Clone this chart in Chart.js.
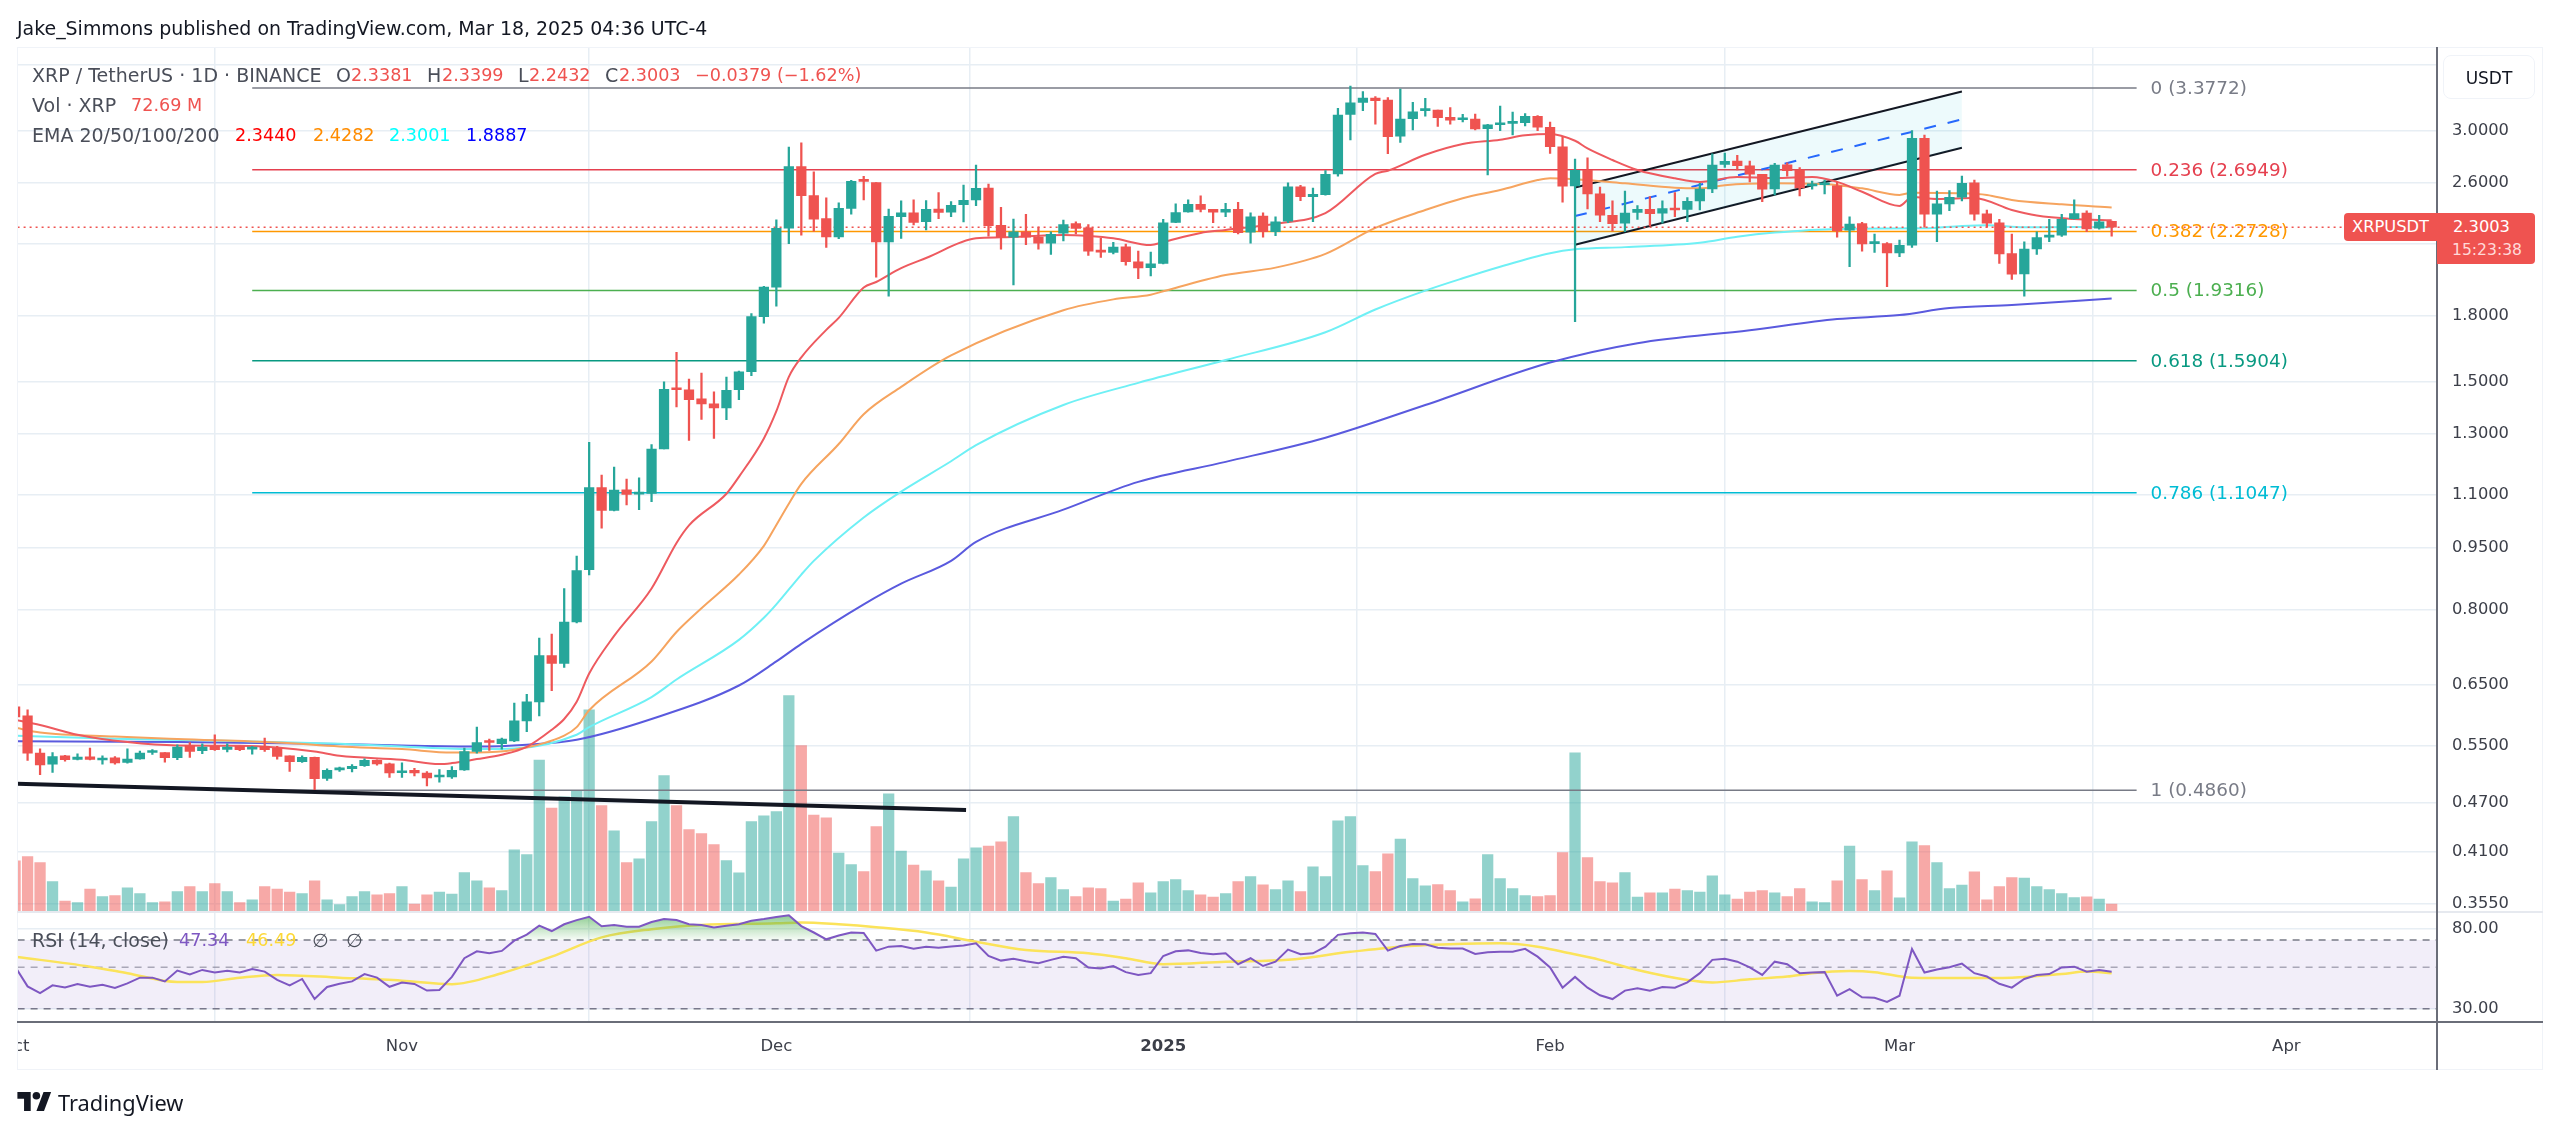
<!DOCTYPE html>
<html>
<head>
<meta charset="utf-8">
<title>XRP / TetherUS</title>
<script src="https://cdn.jsdelivr.net/npm/chart.js@4"></script>
<style>
  body { margin: 0; background: #fff; font-family: "DejaVu Sans", sans-serif; color: #131722; }
  #wrap { position: relative; width: 2560px; height: 1133px; overflow: hidden; }
  #chart { position: absolute; left: 0; top: 0; }
  .abs { position: absolute; white-space: pre; }
  .line { position: absolute; }
  .legend span { position: absolute; top: 0; white-space: pre; font-size: 17.6px; line-height: 24px; color: #ef5350; }
  .legend { position: absolute; left: 0; }
  .legend span.lab { color: #4a4e59; font-size: 19px; }
  .tag { position: absolute; background: #ef5350; color: #fff; font-size: 16.3px; }
</style>
</head>
<body>
<div id="wrap">
  <canvas id="chart" width="2560" height="1133"></canvas>

  <div class="abs" style="left:17px;top:16px;font-size:18.95px;line-height:24px;">Jake_Simmons published on TradingView.com, Mar 18, 2025 04:36 UTC-4</div>

  <div class="line" style="left:17px;top:47px;width:2526px;height:1023px;border:1px solid #f0f3f8;box-sizing:border-box;"></div>
  <div class="line" style="left:17px;top:911px;width:2526px;height:2px;background:#e6e9ef;"></div>
  <div class="line" style="left:17px;top:1021px;width:2526px;height:2px;background:#6a6d78;"></div>
  <div class="line" style="left:2436px;top:47px;width:2px;height:1023px;background:#6a6d78;"></div>

  <div class="legend" style="top:63px;">
    <span class="lab" style="left:32px">XRP / TetherUS · 1D · BINANCE</span>
    <span class="lab" style="left:336px">O</span><span style="left:351px">2.3381</span>
    <span class="lab" style="left:427px">H</span><span style="left:442px">2.3399</span>
    <span class="lab" style="left:518px">L</span><span style="left:529px">2.2432</span>
    <span class="lab" style="left:605px">C</span><span style="left:619px">2.3003</span>
    <span style="left:695px">−0.0379 (−1.62%)</span>
  </div>
  <div class="legend" style="top:93px;">
    <span class="lab" style="left:32px">Vol · XRP</span><span style="left:131px">72.69 M</span>
  </div>
  <div class="legend" style="top:123px;">
    <span class="lab" style="left:32px">EMA 20/50/100/200</span>
    <span style="left:235px;color:#ff0000">2.3440</span>
    <span style="left:313px;color:#ff8c00">2.4282</span>
    <span style="left:389px;color:#00ffff">2.3001</span>
    <span style="left:466px;color:#0000ff">1.8887</span>
  </div>
  <div class="legend" style="top:928px;">
    <span class="lab" style="left:32px">RSI (14, close)</span>
    <span style="left:179px;color:#7e57c2">47.34</span>
    <span style="left:246px;color:#fdd835">46.49</span>
    <span class="lab" style="left:312px">∅</span>
    <span class="lab" style="left:346px">∅</span>
  </div>

  <div class="abs" style="left:2443px;top:55px;width:92px;height:44px;line-height:44px;text-align:center;font-size:17px;border:1px solid #f0f3f8;border-radius:8px;box-sizing:border-box;">USDT</div>

  <div class="tag" style="left:2344px;top:213px;width:93px;height:28px;line-height:28px;text-align:center;border-radius:4px 0 0 4px;">XRPUSDT</div>
  <div class="tag" style="left:2437px;top:213px;width:98px;height:51px;border-radius:0 4px 4px 0;">
    <div style="position:absolute;left:16px;top:2px;line-height:24px;">2.3003</div>
    <div style="position:absolute;left:15px;top:25px;line-height:24px;font-size:15.6px;color:#ffd9d8;">15:23:38</div>
  </div>

  <svg style="position:absolute;left:17px;top:1092px;" width="35" height="19" viewBox="0 0 36 20">
    <path d="M14 20H7V7H0V0h14v20zM28 20h-8l7.5-20h8L28 20z" fill="#131722"/><circle cx="20" cy="4" r="4" fill="#131722"/>
  </svg>
  <div class="abs" style="left:58px;top:1088px;font-family:'Noto Sans';font-size:21.8px;line-height:30px;">TradingView</div>
</div>

<script>
// XRP/USDT daily, day numbers count from Nov 1 2024 (Oct 1 is -31)
const firstDay = -31;

// open, high, low, close
const ohlc = [
  [0.6119,0.6153,0.5900,0.5949],[0.5966,0.6069,0.5276,0.5384],[0.5384,0.5449,0.5072,0.5213],[0.5223,0.5393,0.5105,0.5334],
  [0.5345,0.5350,0.5267,0.5286],[0.5290,0.5375,0.5282,0.5325],[0.5329,0.5459,0.5282,0.5290],[0.5282,0.5345,0.5223,0.5296],
  [0.5315,0.5334,0.5223,0.5242],[0.5246,0.5449,0.5238,0.5296],[0.5300,0.5415,0.5296,0.5384],[0.5393,0.5438,0.5363,0.5408],
  [0.5393,0.5393,0.5252,0.5315],[0.5315,0.5509,0.5286,0.5474],[0.5494,0.5544,0.5320,0.5408],[0.5419,0.5525,0.5375,0.5474],
  [0.5484,0.5664,0.5424,0.5434],[0.5438,0.5525,0.5400,0.5474],[0.5484,0.5494,0.5419,0.5434],[0.5444,0.5484,0.5370,0.5468],
  [0.5484,0.5612,0.5408,0.5434],[0.5454,0.5484,0.5296,0.5334],[0.5345,0.5345,0.5119,0.5257],[0.5257,0.5345,0.5246,0.5320],
  [0.5320,0.5325,0.4864,0.5016],[0.5020,0.5157,0.4992,0.5133],[0.5139,0.5182,0.5119,0.5168],[0.5157,0.5218,0.5110,0.5191],
  [0.5200,0.5300,0.5191,0.5276],[0.5276,0.5286,0.5206,0.5226],[0.5228,0.5238,0.5034,0.5096],
  // Nov
  [0.5100,0.5242,0.5034,0.5125],[0.5133,0.5162,0.5057,0.5096],[0.5096,0.5115,0.4919,0.5026],[0.5040,0.5143,0.4970,0.5054],
  [0.5040,0.5186,0.5020,0.5133],[0.5139,0.5459,0.5133,0.5408],[0.5408,0.5786,0.5384,0.5544],[0.5570,0.5597,0.5424,0.5544],
  [0.5525,0.5612,0.5444,0.5597],[0.5570,0.6181,0.5555,0.5884],[0.5884,0.6333,0.5714,0.6202],[0.6202,0.7399,0.5966,0.7049],
  [0.7049,0.7481,0.6399,0.6897],[0.6897,0.8483,0.6820,0.7733],[0.7733,0.9274,0.7712,0.8913],[0.8935,1.2696,0.8806,1.1207],
  [1.1207,1.1601,1.0020,1.0523],[1.0523,1.1858,1.0511,1.1128],[1.1140,1.1475,1.0684,1.0995],[1.1007,1.1514,1.0548,1.1050],
  [1.1030,1.2624,1.0780,1.2469],[1.2469,1.5011,1.2469,1.4698],[1.4752,1.6283,1.4008,1.4682],[1.4682,1.5127,1.2766,1.4288],
  [1.4320,1.5375,1.3532,1.4119],[1.4119,1.4600,1.2837,1.3965],[1.3965,1.5211,1.3515,1.4665],[1.4682,1.5465,1.4288,1.5432],
  [1.5432,1.8119,1.5263,1.7967],[1.7967,1.9540,1.7652,1.9496],
  // Dec
  [1.9496,2.3474,1.8500,2.2935],[2.2935,2.8695,2.1986,2.7200],[2.7200,2.9040,2.2508,2.5100],[2.5100,2.6800,2.2758,2.3525],
  [2.3549,2.4937,2.1745,2.2398],[2.2398,2.4610,2.2282,2.4233],[2.4233,2.6186,2.3845,2.6099],[2.6214,2.6470,2.4800,2.6099],
  [2.6012,2.6012,2.0040,2.2083],[2.2083,2.4186,1.9012,2.3706],[2.3672,2.4732,2.2304,2.3931],[2.3931,2.4800,2.3140,2.3311],
  [2.3351,2.4752,2.2830,2.4165],[2.4186,2.5300,2.3544,2.3957],[2.3977,2.4684,2.3672,2.4438],[2.4479,2.5834,2.3340,2.4779],
  [2.4800,2.7310,2.4410,2.5600],[2.5620,2.5912,2.2446,2.3100],[2.3126,2.4305,2.1640,2.2382],[2.2382,2.3525,1.9607,2.2713],
  [2.2713,2.3838,2.1913,2.2382],[2.2382,2.3004,2.1640,2.2003],[2.2016,2.2713,2.1343,2.2556],[2.2622,2.3460,2.2139,2.3175],
  [2.3226,2.3340,2.2576,2.2921],[2.2963,2.3175,2.1272,2.1535],[2.1551,2.2304,2.1166,2.1476],[2.1459,2.2059,2.1366,2.1772],
  [2.1790,2.1955,2.0705,2.0910],[2.0910,2.1535,1.9951,2.0559],[2.0573,2.1476,2.0101,2.0790],
  // Jan 2025
  [2.0814,2.3505,2.0790,2.3283],[2.3311,2.4527,2.3288,2.3957],[2.4000,2.4800,2.3977,2.4503],[2.4503,2.5075,2.4000,2.4165],
  [2.4165,2.4165,2.3288,2.3977],[2.3977,2.4569,2.3672,2.4165],[2.4165,2.4638,2.2576,2.2660],[2.2694,2.3931,2.2003,2.3672],
  [2.3718,2.3931,2.2382,2.2713],[2.2713,2.3672,2.2468,2.3351],[2.3395,2.6005,2.3288,2.5716],[2.5716,2.5815,2.4752,2.5027],
  [2.5027,2.5620,2.3351,2.5193],[2.5166,2.6890,2.5124,2.6621],[2.6646,3.1940,2.6490,3.1347],[3.1406,3.3966,2.9260,3.2436],
  [3.2473,3.3455,3.1729,3.2861],[3.2861,3.2979,3.0578,3.2617],[3.2680,3.2888,2.8175,2.9530],[2.9565,3.3680,2.9061,3.1005],
  [3.1030,3.2473,3.0083,3.1640],[3.1729,3.2835,3.1246,3.1836],[3.1790,3.1790,3.0391,3.1118],[3.1150,3.2000,3.0578,3.0920],
  [3.0946,3.1410,3.0753,3.1100],[3.1005,3.1433,3.0083,3.0166],[3.0191,3.0558,2.6565,3.0525],[3.0525,3.2136,3.0025,3.0642],
  [3.0642,3.1608,2.9670,3.0753],[3.0694,3.1483,3.0416,3.1246],[3.1246,3.1300,3.0025,3.0308],
  // Feb
  [3.0308,3.0753,2.8205,2.8719],[2.8719,2.9530,2.4643,2.5755],[2.5777,2.7766,1.7717,2.6916],[2.6916,2.7866,2.4186,2.5213],
  [2.5213,2.5690,2.3351,2.3775],[2.3775,2.4732,2.2770,2.3226],[2.3265,2.5421,2.2713,2.3910],[2.3957,2.4411,2.3505,2.4165],
  [2.4165,2.5027,2.3085,2.3880],[2.3910,2.4732,2.3265,2.4208],[2.4233,2.5300,2.3672,2.4120],[2.4165,2.4963,2.3351,2.4711],
  [2.4732,2.5961,2.4120,2.5548],[2.5570,2.8175,2.5300,2.7310],[2.7361,2.8234,2.7134,2.7591],[2.7614,2.8052,2.6940,2.7257],
  [2.7257,2.7614,2.6067,2.6621],[2.6621,2.6621,2.4684,2.5548],[2.5570,2.7436,2.5146,2.7310],[2.7333,2.7484,2.6490,2.6886],
  [2.6940,2.7115,2.5075,2.5640],[2.5777,2.6120,2.5542,2.5890],[2.5862,2.6200,2.5213,2.5961],[2.5777,2.6067,2.2382,2.2770],
  [2.2809,2.3672,2.0628,2.3204],[2.3226,2.3310,2.1535,2.1965],[2.1983,2.2576,2.1459,2.2044],[2.1983,2.2044,1.9514,2.1418],
  // Mar
  [2.1418,2.2200,2.1197,2.1875],[2.1895,3.0025,2.1756,2.9396],[2.9396,2.9670,2.3004,2.3838],[2.3838,2.5421,2.2096,2.4527],
  [2.4527,2.5450,2.4070,2.4984],[2.4984,2.6490,2.4732,2.5961],[2.6005,2.6200,2.3460,2.3838],[2.3860,2.4120,2.3004,2.3265],
  [2.3283,2.3505,2.0811,2.1366],[2.1383,2.2576,1.9918,2.0200],[2.0216,2.2096,1.9015,2.1650],[2.1666,2.2713,2.1343,2.2358],
  [2.2382,2.3505,2.2096,2.2501],[2.2501,2.3838,2.2420,2.3505],[2.3544,2.4800,2.3525,2.3880],[2.3910,2.4070,2.2713,2.2900],
  [2.2940,2.3771,2.2877,2.3340],[2.3381,2.3399,2.2432,2.3003]
];

// volume in millions of XRP
const volume = [
  507,550,490,300,103,90,223,150,160,237,180,90,97,200,250,200,280,200,90,117,250,223,193,180,307,117,70,150,200,167,180,
  250,73,167,193,173,390,307,237,210,617,570,1513,1033,1147,1203,2017,1060,807,490,527,900,1360,1060,820,
  780,670,510,387,900,957,1000,2160,1660,963,937,583,470,400,850,1177,603,463,407,307,243,527,637,653,697,950,
  390,280,340,220,150,237,230,103,123,287,187,300,320,210,167,143,180,300,350,267,220,307,200,447,350,907,950,460,400,577,
  723,330,257,270,210,97,127,570,330,230,160,150,160,590,1587,540,300,287,390,143,187,187,223,210,193,357,167,123,193,210,
  187,150,230,97,90,307,653,320,210,407,137,697,660,490,230,263,397,117,250,340,333,250,220,180,140,147,123,73
];

const rsi = [
  50.4,39.5,36.4,40,39,40.7,39.3,40.3,38.7,41,44,44,42,48,45.8,48.4,46.9,47.9,46.9,49,47.4,42.8,40,43.3,33.8,39.2,40.8,42,46,44,39.3,
  41.4,40.7,37.5,37.8,44.4,55.9,60.9,59.4,61.2,69.4,74.8,83.6,78.2,85,89.5,93.3,82.9,84.3,82.5,82.5,87.4,90.7,89.5,85,
  84.3,81.6,83.5,85,88.8,90.7,93,94.9,83.1,76.8,70.6,74,76.8,76.4,61.4,64.5,65,62.8,64.5,63.7,64.7,65.5,67.2,57.5,54.3,55.6,53.9,52.6,54.8,57,55.9,
  49.9,49.3,50.8,47.1,45.5,46.5,57.5,60.9,61.6,59.7,58.7,59.4,51.9,55.9,50.8,53.6,62.2,58.7,59.4,64.5,74.6,76,76.8,75.4,61.4,65,
  66.6,66.4,63.7,63,63,58.9,60.2,60.5,60.5,62.8,57,49.9,38.9,44.4,38.9,35.4,33.8,37.5,38.6,37.5,39.2,38.9,41.5,46.5,54.8,55.6,53.6,50,45.5,53.6,51.9,46.5,46.9,47.1,
  35.2,38.2,34.5,34.3,32.6,35.2,62.6,46.9,48.6,50,52.3,46.5,44.6,40.8,38.9,43.3,45.5,46,49.9,50.4,47.3,48.4,47.34
];

// smoothing line of the RSI, read every few days
const rsiMa = [[-31,57],[-25,50.4],[-22,46.5],[-18,41.7],[-16,41.7],[-13,44],[-10,45.5],[-5,44],[0,42.4],[4,40.6],[8,46.5],[12,57],[16,72.3],[20,80],[24,84.3],[30,86],[32,87],[35,85],[38,82],[42,76.8],[46,68.6],[50,61.9],[55,59.4],[58,55.9],[61,51.9],[66,53.6],[71,54.8],[76,60.5],[80,64.5],[84,66.4],[88,67.2],[91,64.5],[93,60.5],[96,54.8],[99,48.4],[103,42.8],[105,41.5],[108,43.1],[111,44.6],[113,46.5],[116,47.7],[118,47.1],[121,44],[125,43.8],[129,44],[133,46],[135,47.5],[137,46.49]];

// moving averages, read every few days
const ema20 = [[-31,0.590],[-29,0.5819],[-26,0.5664],[-22,0.555],[-18,0.5498],[-13,0.5494],[-10,0.5469],[-7,0.5408],[-5,0.5345],[0,0.5286],[3,0.5223],[4,0.5238],[6,0.5296],[8,0.536],[10,0.5479],[12,0.5743],[13,0.5916],[14,0.6205],[15,0.6707],[17,0.7441],[20,0.8483],[22,0.962],[23,1.0098],[26,1.1019],[27,1.1545],[29,1.2837],[30,1.384],[31,1.5215],[32,1.6055],[34,1.7323],[35,1.7908],[37,1.9469],[38,1.9771],[40,2.0538],[42,2.1125],[46,2.2304],[48,2.2365],[53,2.251],[55,2.2446],[57,2.2304],[60,2.1895],[61,2.2077],[64,2.264],[66,2.283],[70,2.3226],[74,2.391],[78,2.6646],[79,2.6886],[82,2.809],[85,2.8937],[88,2.9285],[90,2.964],[92,2.9755],[94,2.92],[95,2.8585],[97,2.769],[99,2.694],[102,2.6325],[104,2.6067],[107,2.6424],[110,2.6344],[113,2.6424],[115,2.6067],[117,2.5366],[120,2.439],[121,2.4997],[123,2.4869],[126,2.4937],[129,2.412],[131,2.3752],[134,2.3525],[137,2.344]];
const ema50 = [[-31,0.5775],[-29,0.5701],[-23,0.5636],[-18,0.5597],[-10,0.5544],[-5,0.5484],[0,0.5444],[4,0.5393],[6,0.5393],[9,0.5434],[13,0.5651],[14,0.5785],[15,0.6061],[20,0.6935],[22,0.7523],[24,0.8032],[27,0.8815],[29,0.9543],[30,1.011],[31,1.072],[32,1.1325],[35,1.264],[37,1.3725],[40,1.48],[44,1.6143],[53,1.829],[57,1.8846],[60,1.9085],[61,1.927],[66,2.0154],[70,2.0573],[74,2.1366],[78,2.2956],[82,2.412],[85,2.4917],[88,2.549],[91,2.62],[92,2.6325],[94,2.625],[98,2.5961],[102,2.5648],[104,2.5605],[106,2.5834],[110,2.5961],[115,2.5834],[117,2.5605],[120,2.5146],[121,2.53],[125,2.5261],[127,2.5146],[129,2.48],[133,2.4503],[137,2.4282]];
const ema100 = [[-31,0.5648],[-23,0.5601],[-15,0.5575],[-5,0.5525],[0,0.5484],[6,0.5444],[9,0.5452],[14,0.5664],[15,0.5785],[20,0.6285],[22,0.6597],[27,0.736],[29,0.7823],[30,0.8118],[32,0.8815],[33,0.9155],[37,1.032],[40,1.1085],[44,1.2053],[46,1.2603],[53,1.4079],[59,1.4965],[66,1.594],[74,1.721],[78,1.8327],[82,1.9307],[85,1.9975],[88,2.0622],[92,2.1404],[94,2.164],[98,2.177],[104,2.2034],[107,2.2401],[110,2.266],[115,2.2893],[122,2.2937],[125,2.3085],[127,2.313],[130,2.2995],[134,2.3014],[137,2.3001]];
const ema200 = [[-31,0.5564],[-18,0.555],[-5,0.552],[0,0.5498],[6,0.5482],[10,0.551],[14,0.5586],[20,0.5916],[27,0.6489],[30,0.6935],[32,0.728],[37,0.8118],[40,0.8595],[44,0.9155],[46,0.9647],[53,1.0545],[59,1.1387],[66,1.2033],[74,1.2864],[82,1.4079],[92,1.583],[99,1.67],[108,1.731],[115,1.7849],[120,1.8047],[124,1.8396],[129,1.8551],[137,1.8887]];

// fib retracement drawn Oct 20 .. Mar 20
const fibStart = -12, fibEnd = 139;
const fibLevels = [
  { ratio: '0', price: 3.3772, color: '#787b86' },
  { ratio: '0.236', price: 2.6949, color: '#e5404f' },
  { ratio: '0.382', price: 2.2728, color: '#ff9800' },
  { ratio: '0.5', price: 1.9316, color: '#4caf50' },
  { ratio: '0.618', price: 1.5904, color: '#089981' },
  { ratio: '0.786', price: 1.1047, color: '#00bcd4' },
  { ratio: '1', price: 0.486, color: '#787b86' }
];

// parallel channel and the long trendline
const channelTop = [[94, 2.567], [125, 3.3455]];
const channelMid = [[94, 2.3718], [125, 3.098]];
const channelLow = [[94, 2.191], [125, 2.864]];
const trendLine = [[-31, 0.4947], [45.2, 0.4602]];

const lastClose = 2.3003;
const xMin = -30.8, xMax = 163.07;
const UP = '#26a69a', DOWN = '#ef5350';

const months = { '-31': 'Oct', 0: 'Nov', 30: 'Dec', 61: '2025', 92: 'Feb', 120: 'Mar', 151: 'Apr' };
const priceTicks = [3.6, 3.0, 2.6, 2.2, 1.8, 1.5, 1.3, 1.1, 0.95, 0.8, 0.65, 0.55, 0.47, 0.41, 0.355];
const hiddenPriceLabels = [3.6, 2.2]; // covered by the USDT button and the price tag

const pts = rows => rows.map(r => ({ x: r[0], y: r[1] }));
const dayOf = i => firstDay + i;
const isUp = c => c[3] >= c[0];

const ctx = document.getElementById('chart').getContext('2d');

// green area over the 70 line on the RSI
const obGradient = ctx.createLinearGradient(0, 914, 0, 941);
obGradient.addColorStop(0, 'rgba(76,175,80,0.65)');
obGradient.addColorStop(1, 'rgba(76,175,80,0.02)');

function flatLine(price, x0, x1, color, extra) {
  return Object.assign({
    type: 'line',
    data: [{ x: x0, y: price }, { x: x1, y: price }],
    borderColor: color,
    borderWidth: 1.5,
    yAxisID: 'y',
    order: 8
  }, extra);
}
function emaLine(rows, color) {
  return {
    type: 'line',
    data: pts(rows),
    borderColor: color,
    borderWidth: 2,
    cubicInterpolationMode: 'monotone',
    yAxisID: 'y',
    order: 6
  };
}

const datasets = [
  // volume sits at the very back
  {
    type: 'bar',
    data: volume.map((v, i) => ({ x: dayOf(i), y: v })),
    backgroundColor: ohlc.map(c => isUp(c) ? 'rgba(38,166,154,0.5)' : 'rgba(239,83,80,0.5)'),
    barThickness: 10.6,
    grouped: false,
    yAxisID: 'vol',
    order: 10
  },
  ...fibLevels.map(f => flatLine(f.price, fibStart, fibEnd, f.color)),
  flatLine(lastClose, xMin, xMax, DOWN, { borderWidth: 1.5, borderDash: [2, 4], order: 5 }),
  // channel
  {
    type: 'line', data: pts(channelTop), borderColor: '#131722', borderWidth: 2, yAxisID: 'y', order: 7,
    fill: { target: '+2' }, backgroundColor: 'rgba(0,188,212,0.07)'
  },
  { type: 'line', data: pts(channelMid), borderColor: '#2962ff', borderWidth: 2, borderDash: [12, 12], yAxisID: 'y', order: 7 },
  { type: 'line', data: pts(channelLow), borderColor: '#131722', borderWidth: 2, yAxisID: 'y', order: 7 },
  { type: 'line', data: pts(trendLine), borderColor: '#131722', borderWidth: 4, yAxisID: 'y', order: 1 },
  emaLine(ema20, '#ee5a5f'),
  emaLine(ema50, '#f6a45f'),
  emaLine(ema100, '#6ff0f5'),
  emaLine(ema200, '#5a5ade'),
  // candles
  {
    type: 'bar',
    data: ohlc.map((c, i) => ({ x: dayOf(i), y: [c[2], c[1]] })),
    backgroundColor: ohlc.map(c => isUp(c) ? UP : DOWN),
    barThickness: 1.6,
    grouped: false,
    yAxisID: 'y',
    order: 3
  },
  {
    type: 'bar',
    data: ohlc.map((c, i) => ({ x: dayOf(i), y: [c[0], c[3]] })),
    backgroundColor: ohlc.map(c => isUp(c) ? UP : DOWN),
    barThickness: 9.6,
    minBarLength: 2,
    grouped: false,
    yAxisID: 'y',
    order: 2
  },
  // RSI pane
  {
    type: 'line', data: [{ x: xMin, y: 70 }, { x: xMax, y: 70 }], borderColor: '#787b86', borderWidth: 1.5, borderDash: [7, 6],
    fill: { target: { value: 30 } }, backgroundColor: 'rgba(126,87,194,0.1)', yAxisID: 'rsi', order: 8
  },
  { type: 'line', data: [{ x: xMin, y: 50 }, { x: xMax, y: 50 }], borderColor: 'rgba(120,123,134,0.6)', borderWidth: 1.5, borderDash: [7, 6], yAxisID: 'rsi', order: 8 },
  { type: 'line', data: [{ x: xMin, y: 30 }, { x: xMax, y: 30 }], borderColor: '#787b86', borderWidth: 1.5, borderDash: [7, 6], yAxisID: 'rsi', order: 8 },
  { type: 'line', data: pts(rsiMa), borderColor: '#fbe35a', borderWidth: 2.5, cubicInterpolationMode: 'monotone', yAxisID: 'rsi', order: 5 },
  {
    type: 'line',
    data: rsi.map((v, i) => ({ x: dayOf(i), y: v })),
    borderColor: '#7e57c2',
    borderWidth: 2,
    fill: { target: { value: 70 }, above: obGradient, below: 'rgba(0,0,0,0)' },
    yAxisID: 'rsi',
    order: 4
  }
];

// fib labels and the clipped Oct label
const chartLabels = {
  id: 'chartLabels',
  afterDatasetsDraw(chart) {
    const { x, y } = chart.scales;
    const c = chart.ctx;
    c.save();
    c.font = '18.4px "DejaVu Sans"';
    c.textBaseline = 'middle';
    fibLevels.forEach(f => {
      c.fillStyle = f.color;
      c.fillText(`${f.ratio} (${f.price.toFixed(4)})`, x.getPixelForValue(fibEnd) + 14, y.getPixelForValue(f.price) + 1);
    });
    c.restore();
    c.save();
    c.beginPath();
    c.rect(chart.chartArea.left, chart.chartArea.bottom, 60, 50);
    c.clip();
    c.font = '16.5px "DejaVu Sans"';
    c.fillStyle = '#3c3f49';
    c.textAlign = 'center';
    c.textBaseline = 'middle';
    c.fillText('Oct', x.getPixelForValue(-31), 1047);
    c.restore();
  }
};

const gridColor = '#e7eef4';
const axisFont = { family: '"DejaVu Sans"', size: 16.3 };

new Chart(ctx, {
  data: { datasets },
  plugins: [chartLabels],
  options: {
    responsive: false,
    animation: false,
    devicePixelRatio: 1,
    layout: { padding: { left: 17.6, right: 17, top: 47, bottom: 63 } },
    elements: { point: { radius: 0 }, line: { tension: 0 }, bar: { borderWidth: 0 } },
    plugins: { legend: { display: false }, tooltip: { enabled: false } },
    scales: {
      x: {
        type: 'linear',
        min: xMin,
        max: xMax,
        offset: false,
        afterBuildTicks: s => { s.ticks = [0, 30, 61, 92, 120, 151].map(value => ({ value })); },
        afterFit: s => { s.height = 48; },
        grid: { color: gridColor, lineWidth: 1.5, drawTicks: false },
        border: { display: false },
        ticks: {
          autoSkip: false,
          maxRotation: 0,
          padding: 15,
          color: '#3c3f49',
          font: c => ({ family: '"DejaVu Sans"', size: 16.5, weight: c.tick && c.tick.value === 61 ? 'bold' : 'normal' }),
          callback: v => months[v] || ''
        }
      },
      y: {
        type: 'logarithmic',
        position: 'right',
        stack: 'panes',
        stackWeight: 865,
        weight: 1,
        bounds: 'data',
        min: 0.3472,
        max: 3.783,
        afterBuildTicks: s => { s.ticks = priceTicks.map(value => ({ value })); },
        afterFit: s => { s.width = 106; },
        grid: { color: gridColor, lineWidth: 1.5, drawTicks: false },
        border: { display: false },
        ticks: {
          autoSkip: false,
          padding: 15,
          color: '#3c3f49',
          font: axisFont,
          callback: v => hiddenPriceLabels.includes(v) ? '' : v.toFixed(4)
        }
      },
      rsi: {
        type: 'logarithmic',
        position: 'right',
        stack: 'panes',
        stackWeight: 110,
        weight: 2,
        bounds: 'data',
        min: 25.46,
        max: 98.9,
        afterBuildTicks: s => { s.ticks = [80, 30].map(value => ({ value })); },
        afterFit: s => { s.width = 106; },
        grid: { color: gridColor, lineWidth: 1.5, drawTicks: false },
        border: { display: false },
        ticks: {
          autoSkip: false,
          padding: 15,
          color: '#3c3f49',
          font: axisFont,
          callback: v => v.toFixed(2)
        }
      },
      // 10M per pixel, zero sits on the pane separator
      vol: {
        type: 'linear',
        position: 'left',
        display: false,
        min: -1105,
        max: 8645
      }
    }
  }
});
</script>
</body>
</html>
